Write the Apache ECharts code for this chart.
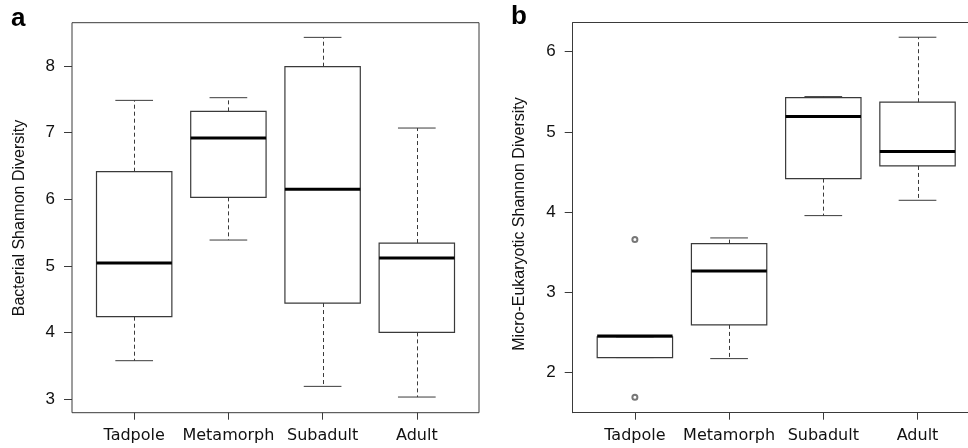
<!DOCTYPE html>
<html>
<head>
<meta charset="utf-8">
<script src="https://cdn.jsdelivr.net/npm/echarts@6/dist/echarts.min.js"></script>
<style>
html,body{margin:0;padding:0;background:#fff;}
#chart{width:968px;height:448px;}
</style>
</head>
<body>
<div id="chart"></div>
<script>
// ---- Data ----
var categories = ['Tadpole', 'Metamorph', 'Subadult', 'Adult'];

// Panel a: Bacterial Shannon Diversity
var bacterialMin    = [3.58, 5.39, 3.195, 3.035];
var bacterialQ1     = [4.24, 6.03, 4.445, 4.005];
var bacterialMedian = [5.045, 6.92, 6.15, 5.12];
var bacterialQ3     = [6.415, 7.32, 7.99, 5.345];
var bacterialMax    = [7.485, 7.525, 8.43, 7.07];

// Panel b: Micro-Eukaryotic Shannon Diversity
var eukMin    = [2.187, 2.174, 3.956, 4.147];
var eukQ1     = [2.187, 2.594, 4.417, 4.575];
var eukMedian = [2.455, 3.267, 5.19, 4.754];
var eukQ3     = [2.445, 3.607, 5.427, 5.369];
var eukMax    = [2.445, 3.678, 5.439, 6.179];
var eukOutlierCategory = ['Tadpole', 'Tadpole'];
var eukOutlierValue    = [3.657, 1.693];

var yTicksA = [3, 4, 5, 6, 7, 8];
var yTicksB = [2, 3, 4, 5, 6];
var xTickPositions = [1, 2, 3, 4];

// ---- Build ----
function boxData(mn, q1, md, q3, mx) {
  return categories.map(function (c, i) {
    return [i + 1, mn[i], q1[i], md[i], q3[i], mx[i]];
  });
}

var LINE = '#3a3a3a';
function renderBox(params, api) {
  var x = api.value(0);
  var mn = api.value(1), q1 = api.value(2), md = api.value(3), q3 = api.value(4), mx = api.value(5);
  var hw = 0.4, sw = 0.2;
  var pMin = api.coord([x, mn]), pQ1 = api.coord([x, q1]), pMd = api.coord([x, md]);
  var pQ3 = api.coord([x, q3]), pMax = api.coord([x, mx]);
  var left = api.coord([x - hw, q3])[0], right = api.coord([x + hw, q3])[0];
  var sL = api.coord([x - sw, mn])[0], sR = api.coord([x + sw, mn])[0];
  var cx = Math.round(pMin[0]) + 0.5;
  var children = [];
  if (pMax[1] < pQ3[1] - 0.5) {
    children.push({type: 'line', shape: {x1: cx, y1: pQ3[1], x2: cx, y2: pMax[1]},
      style: {stroke: LINE, lineWidth: 1, lineDash: [4, 3]}});
  }
  if (pMin[1] > pQ1[1] + 0.5) {
    children.push({type: 'line', shape: {x1: cx, y1: pQ1[1], x2: cx, y2: pMin[1]},
      style: {stroke: LINE, lineWidth: 1, lineDash: [4, 3]}});
  }
  children.push({type: 'line', shape: {x1: sL, y1: pMax[1], x2: sR, y2: pMax[1]},
    style: {stroke: LINE, lineWidth: 1}});
  children.push({type: 'line', shape: {x1: sL, y1: pMin[1], x2: sR, y2: pMin[1]},
    style: {stroke: LINE, lineWidth: 1}});
  children.push({type: 'rect', shape: {x: left, y: pQ3[1], width: right - left, height: pQ1[1] - pQ3[1]},
    style: {stroke: LINE, lineWidth: 1.2, fill: 'rgba(255,255,255,0)'}});
  children.push({type: 'line', shape: {x1: left, y1: pMd[1], x2: right, y2: pMd[1]},
    style: {stroke: '#000', lineWidth: 3}});
  return {type: 'group', children: children};
}

function xAxisCfg(gridIndex, xMax, showLine) {
  return {
    type: 'value', gridIndex: gridIndex, min: 0.34, max: xMax, position: 'bottom',
    axisLine: {show: showLine, lineStyle: {color: LINE, width: 1}}, splitLine: {show: false},
    axisTick: {show: true, customValues: xTickPositions, length: 7, lineStyle: {color: LINE, width: 1}},
    axisLabel: {show: true, customValues: xTickPositions, margin: 15,
      fontFamily: 'DejaVu Sans', fontSize: 16, color: '#111',
      formatter: function (v) { return categories[Math.round(v) - 1] || ''; }}
  };
}
function yAxisCfg(gridIndex, mn, mx, ticks, showLine) {
  return {
    type: 'value', gridIndex: gridIndex, min: mn, max: mx,
    axisLine: {show: showLine, lineStyle: {color: LINE, width: 1}}, splitLine: {show: false},
    axisTick: {show: true, customValues: ticks, length: 8, lineStyle: {color: LINE, width: 1}},
    axisLabel: {show: true, customValues: ticks, margin: 17,
      fontFamily: 'Liberation Sans', fontSize: 17, color: '#111',
      formatter: function (v) { return String(v); }}
  };
}

// Right panel is cut off by the image edge in the reference: same unit width, fewer units visible.
var rightLeft = 572.7, rightWidth = 968 - 572.7, unitPx = 407 / 4.32;
var rightXMax = 0.34 + rightWidth / unitPx;

var chart = echarts.init(document.getElementById('chart'), null, {renderer: 'canvas'});
var xa = xAxisCfg(0, 4.66, false);
var xb = xAxisCfg(1, rightXMax, true);
var xbTop = {type: 'value', gridIndex: 1, min: 0.34, max: rightXMax, position: 'top',
  axisLine: {show: true, lineStyle: {color: LINE, width: 1}}, axisTick: {show: false},
  axisLabel: {show: false}, splitLine: {show: false}};
chart.setOption({
  animation: false,
  backgroundColor: '#fff',
  grid: [
    {left: 72, top: 22.7, width: 407, height: 390, show: true, borderColor: LINE, borderWidth: 1, backgroundColor: 'transparent'},
    {left: rightLeft, top: 22.7, width: rightWidth, height: 390, show: false}
  ],
  xAxis: [xa, xb, xbTop],
  yAxis: [yAxisCfg(0, 2.8, 8.65, yTicksA, false), yAxisCfg(1, 1.5, 6.36, yTicksB, true)],
  graphic: [
    {type: 'text', left: 11, top: 6, style: {text: 'a', font: 'bold 26px "Liberation Sans"', fill: '#000'}},
    {type: 'text', left: 511, top: 4, style: {text: 'b', font: 'bold 26px "Liberation Sans"', fill: '#000'}},
    {type: 'text', x: 20, y: 218, rotation: Math.PI / 2,
      style: {text: 'Bacterial Shannon Diversity', font: '16px "Liberation Sans"', fill: '#111', align: 'center', verticalAlign: 'middle'}},
    {type: 'text', x: 520, y: 224, rotation: Math.PI / 2,
      style: {text: 'Micro-Eukaryotic Shannon Diversity', font: '16px "Liberation Sans"', fill: '#111', align: 'center', verticalAlign: 'middle'}}
  ],
  series: [
    {type: 'custom', xAxisIndex: 0, yAxisIndex: 0, renderItem: renderBox, clip: false,
      encode: {x: 0, y: [1, 2, 3, 4, 5]},
      data: boxData(bacterialMin, bacterialQ1, bacterialMedian, bacterialQ3, bacterialMax)},
    {type: 'custom', xAxisIndex: 1, yAxisIndex: 1, renderItem: renderBox, clip: false,
      encode: {x: 0, y: [1, 2, 3, 4, 5]},
      data: boxData(eukMin, eukQ1, eukMedian, eukQ3, eukMax)},
    {type: 'scatter', xAxisIndex: 1, yAxisIndex: 1, symbol: 'emptyCircle', symbolSize: 5,
      itemStyle: {color: '#555', borderColor: '#555', borderWidth: 0.8},
      data: eukOutlierCategory.map(function (c, i) { return [categories.indexOf(c) + 1, eukOutlierValue[i]]; })}
  ]
});
</script>
</body>
</html>
